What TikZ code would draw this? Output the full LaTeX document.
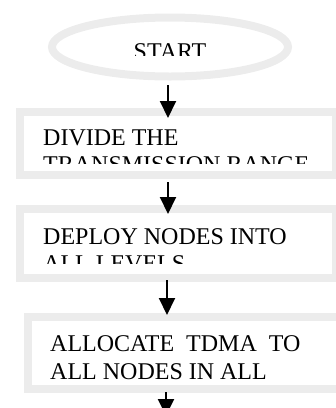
\documentclass[tikz,border=0pt]{standalone}
\usepackage{fontspec}
\setmainfont{Liberation Serif}
\usepackage{tikz}
\usetikzlibrary{arrows.meta,shapes}
\definecolor{boxgrey}{RGB}{236,236,236}
\tikzstyle{terminal}=[ellipse,draw=boxgrey,line width=8pt,minimum width=236pt,minimum height=59pt,inner sep=0pt]
\tikzstyle{process}=[rectangle,draw=boxgrey,line width=8pt,inner sep=0pt]
\tikzstyle{boxtext}=[inner sep=0pt,anchor=north west,align=left,font=\fontsize{24}{27}\selectfont]
\tikzstyle{flow} = [draw,line width=2pt,-{Triangle[width=16pt,length=17pt]}]

\begin{document}
\begin{tikzpicture}[x=1pt,y=-1pt]
        \useasboundingbox (0,0) rectangle (336,408);
        \node[terminal] (start) at (170,47) {};
        \node[process,minimum width=316pt,minimum height=63pt] (divide) at (178,143.5) {};
        \node[process,minimum width=316pt,minimum height=69pt] (deploy) at (178,243.5) {};
        \node[process,minimum width=313pt,minimum height=72.5pt] (allocate) at (184,352.75) {};
        \coordinate (next) at (166,416);
        % texts are cut off at the bottom
        \begin{scope}
          \clip (0,0) rectangle (336,55);
          \node[boxtext,anchor=north] (starttext) at (170,43) {START};
        \end{scope}
        \begin{scope}
          \clip (divide.north west) rectangle (336,163);
          \node[boxtext] (dividetext) at (43,130) {DIVIDE THE\\TRANSMISSION RANGE};
        \end{scope}
        \begin{scope}
          \clip (deploy.north west) rectangle (336,263);
          \node[boxtext] (deploytext) at (43,228) {DEPLOY NODES INTO\\ALL LEVELS};
        \end{scope}
        \begin{scope}
          \clip (allocate.north west) rectangle (336,379);
          \node[boxtext,font=\fontsize{24}{28}\selectfont] (allocatetext) at (50,335) {ALLOCATE\ \ TDMA\ \ TO\\ALL NODES IN ALL};
        \end{scope}
        \draw[flow,shorten <=4.5pt,shorten >=-10pt] ([xshift=-2pt]start.south) to ([xshift=-2pt]start.south |- divide.north);
        \draw[flow,shorten <=3pt,shorten >=-9pt] ([xshift=-10pt]divide.south) to ([xshift=-10pt]divide.south |- deploy.north);
        \draw[flow,shorten <=-2pt,shorten >=-2.5pt] ([xshift=-11pt]deploy.south) to ([xshift=-11pt]deploy.south |- allocate.north);
        \draw[flow,shorten <=-1pt] ([xshift=-18pt]allocate.south) to (next);
      \end{tikzpicture}
\end{document}
